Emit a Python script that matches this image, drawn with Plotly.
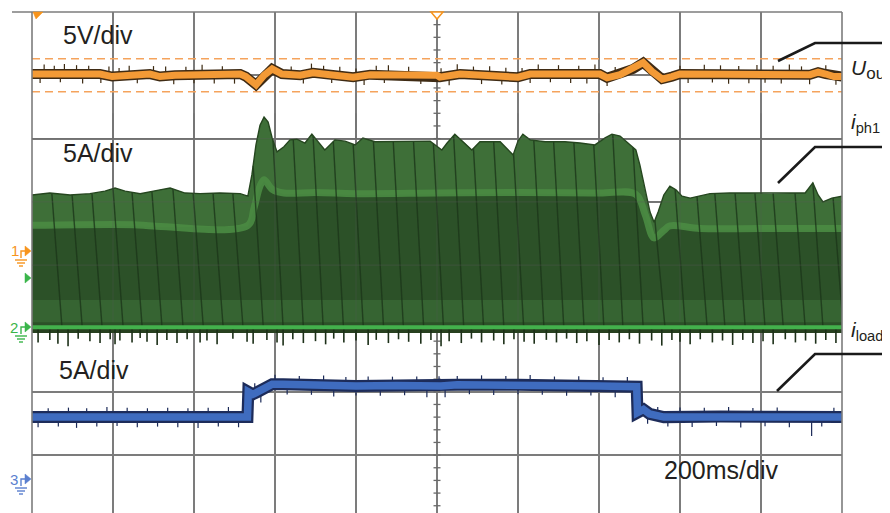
import numpy as np
import plotly.graph_objects as go

# ---------------- data (time in ms, 200 ms/div; vertical values in screen divisions) -------------
uout_t = [0, 168, 198, 237, 291, 316, 353, 514, 528, 553, 573, 593, 617, 662, 694, 736, 793, 835,
          1000, 1007, 1057, 1200, 1230, 1402, 1420, 1452, 1484, 1509, 1531, 1556, 1580, 1600,
          1921, 1941, 1960, 1980, 2000]
uout_v = [3.02, 3.02, 2.98, 2.99, 3.02, 2.98, 3.00, 3.02, 2.98, 2.85, 3.00, 3.10, 3.02, 3.00, 3.04, 3.01, 2.97, 3.01,
          3.00, 2.97, 3.02, 2.97, 3.02, 3.02, 2.96, 3.01, 3.10, 3.20, 3.06, 2.94, 2.98, 3.02,
          3.01, 3.05, 3.02, 2.98, 2.98]
uout_limits = [3.26, 2.74]

iph1_env_t = [0, 44, 94, 143, 180, 205, 230, 267, 316, 341, 378, 415, 464, 514, 533, 543, 553, 563, 573, 583,
              593, 605, 622, 637, 654, 674, 691, 706, 723, 748, 773, 798, 817, 847, 884, 933, 983, 1012, 1025, 1044,
              1069, 1086, 1106, 1156, 1188, 1200, 1212, 1230, 1267, 1316, 1353, 1390, 1415, 1432, 1452, 1477, 1491,
              1501, 1514, 1526, 1536, 1546, 1560, 1575, 1590, 1605, 1625, 1674, 1723, 1773, 1822, 1872, 1909, 1928,
              1941, 1953, 1975, 2000]
iph1_env_v = [1.11, 1.14, 1.11, 1.13, 1.17, 1.22, 1.17, 1.13, 1.19, 1.22, 1.14, 1.13, 1.14, 1.13, 1.09, 1.43, 1.90, 2.21, 2.34, 2.26,
              2.01, 1.79, 1.87, 1.98, 1.99, 1.93, 2.07, 1.95, 1.82, 1.98, 1.96, 1.90, 2.01, 1.95, 1.95, 1.95, 1.96, 1.82, 1.93, 2.07,
              1.93, 1.82, 1.95, 1.95, 1.74, 1.96, 2.07, 1.98, 1.95, 1.95, 1.93, 1.90, 2.01, 2.07, 2.04, 1.90, 1.82,
              1.58, 1.18, 0.84, 0.68, 0.84, 1.11, 1.25, 1.19, 1.09, 1.06, 1.13, 1.14, 1.14, 1.13, 1.14, 1.14, 1.30,
              1.11, 1.00, 1.06, 1.09]
iph1_band_t = [0, 250, 300, 533, 548, 563, 573, 593, 622, 700, 800, 1000, 1200, 1400, 1491, 1514, 1536, 1560, 1575, 1650, 1800, 2000]
iph1_band_v = [0.63, 0.64, 0.62, 0.63, 0.90, 1.25, 1.35, 1.20, 1.14, 1.15, 1.13, 1.14, 1.15, 1.14, 1.12, 0.80, 0.43, 0.55, 0.62, 0.58, 0.58, 0.58]
iph1_base = -0.98
iph1_streak_t = [49, 99, 148, 200, 247, 296, 348, 398, 447, 496, 546, 595, 645, 694, 744, 793, 843, 892, 942, 991,
                 1041, 1090, 1140, 1189, 1239, 1288, 1338, 1387, 1434, 1484, 1538, 1588, 1642, 1686, 1736, 1785, 1830,
                 1884, 1928, 1978]

iload_t = [0, 532, 534, 545, 555, 570, 593, 620, 700, 800, 900, 1000, 1010, 1050, 1200, 1300, 1400, 1493, 1495,
           1510, 1525, 1560, 1700, 1900, 2000]
iload_v = [-2.40, -2.40, -2.00, -2.04, -2.01, -1.95, -1.88, -1.88, -1.90, -1.91, -1.90, -1.92, -1.91, -1.89, -1.89,
           -1.90, -1.91, -1.92, -2.33, -2.28, -2.35, -2.40, -2.39, -2.40, -2.40]

uout_spikes = [(20, -0.14), (30, 0.15), (55, 0.13), (70, -0.13), (80, 0.16), (110, 0.14), (125, -0.15), (140, 0.13),
               (170, -0.14), (190, 0.15), (215, 0.13), (240, 0.16), (260, -0.13), (300, 0.14), (330, 0.15), (350, -0.14),
               (380, 0.13), (400, -0.13), (420, 0.16), (450, -0.14), (470, 0.13), (500, -0.15), (640, 0.13), (670, -0.14),
               (690, 0.15), (720, 0.13), (740, -0.13), (760, 0.14), (800, 0.13), (820, -0.15), (850, 0.14), (870, -0.13),
               (880, 0.15), (930, 0.13), (960, -0.14), (1010, 0.14), (1030, -0.15), (1050, 0.16), (1090, 0.13),
               (1110, -0.14), (1130, 0.15), (1160, -0.13), (1170, 0.14), (1210, 0.13), (1230, -0.14), (1250, 0.15),
               (1280, -0.13), (1300, 0.14), (1330, -0.14), (1350, 0.13), (1370, -0.15), (1390, 0.15), (1420, -0.13),
               (1440, 0.14), (1600, 0.13), (1620, -0.14), (1660, 0.15), (1680, -0.13), (1700, 0.14), (1720, -0.15),
               (1745, 0.13), (1770, -0.14), (1790, 0.15), (1810, -0.13), (1830, 0.14), (1850, -0.14), (1870, 0.16),
               (1900, 0.13), (1920, -0.15), (1960, 0.14), (1985, -0.13)]
iph1_spikes = [(15, 0.24), (44, 0.2), (64, 0.26), (89, 0.3), (114, 0.18), (143, 0.22), (168, 0.25), (193, 0.19),
               (205, 0.27), (217, 0.21), (247, 0.24), (267, 0.17), (284, 0.23), (309, 0.28), (333, 0.2), (358, 0.25),
               (383, 0.19), (415, 0.24), (432, 0.21), (457, 0.27), (496, 0.18), (531, 0.23), (546, 0.26), (580, 0.2),
               (605, 0.24), (620, 0.29), (644, 0.19), (670, 0.25), (700, 0.22), (725, 0.27), (745, 0.18), (770, 0.24),
               (800, 0.21), (830, 0.28), (850, 0.2), (880, 0.25), (905, 0.19), (930, 0.23), (960, 0.26), (985, 0.2),
               (1010, 0.3), (1030, 0.22), (1060, 0.25), (1085, 0.18), (1110, 0.24), (1140, 0.21), (1165, 0.27),
               (1190, 0.19), (1215, 0.23), (1240, 0.26), (1270, 0.2), (1295, 0.24), (1320, 0.18), (1345, 0.25),
               (1370, 0.22), (1400, 0.28), (1425, 0.2), (1450, 0.24), (1475, 0.19), (1500, 0.26), (1530, 0.21),
               (1555, 0.29), (1580, 0.2), (1600, 0.23), (1625, 0.27), (1650, 0.19), (1680, 0.24), (1705, 0.21),
               (1730, 0.28), (1755, 0.2), (1780, 0.25), (1805, 0.22), (1830, 0.27), (1860, 0.19), (1885, 0.24),
               (1910, 0.21), (1935, 0.26), (1960, 0.2), (1985, 0.25)]
iload_spikes = [(15, -0.16), (40, 0.14), (65, -0.15), (90, 0.15), (110, -0.17), (135, 0.14), (160, -0.15), (185, 0.16),
                (210, -0.14), (235, 0.15), (260, -0.16), (285, 0.14), (310, -0.15), (335, 0.15), (360, -0.16),
                (385, 0.14), (410, -0.17), (435, 0.15), (460, -0.15), (485, 0.16), (510, -0.16), (540, -0.22),
                (550, 0.16), (565, -0.2), (600, 0.15), (630, -0.16), (660, 0.14), (690, -0.15), (720, 0.16),
                (745, -0.17), (775, 0.14), (800, -0.15), (830, 0.15), (860, -0.16), (890, 0.14), (920, -0.15),
                (950, 0.15), (975, -0.17), (1005, 0.16), (1020, -0.18), (1050, 0.14), (1080, -0.15), (1110, 0.15),
                (1140, -0.16), (1170, 0.14), (1200, -0.15), (1230, 0.16), (1260, -0.15), (1290, 0.14), (1320, -0.16),
                (1350, 0.15), (1380, -0.15), (1410, 0.14), (1440, -0.17), (1470, 0.15), (1500, 0.16), (1520, -0.18),
                (1545, 0.14), (1570, -0.15), (1600, 0.15), (1630, -0.16), (1660, 0.14), (1690, -0.15), (1720, 0.15),
                (1750, -0.17), (1780, 0.14), (1810, -0.15), (1840, 0.15), (1870, -0.16), (1925, -0.3), (1950, -0.15),
                (1980, 0.15)]

# ---------------- layout constants ----------------
# page has an 8px body margin; plot area in page pixels: x 32..842, y 12..513
BODY = 8
PX0, PX1, PY0, PY1 = 32, 842, 12, 513
FIG_W, FIG_H = 890 - BODY, 513 - BODY
ML, MR, MT = PX0 - BODY, 890 - PX1, PY0 - BODY
MB = FIG_H - MT - (PY1 - PY0)
X0, X1 = 0, 2000
Y_TOP = 4.0
Y_BOT = 4.0 - (PY1 - PY0) / 63.3


def P(xp, yp):
    """page pixel -> paper coordinates"""
    return (xp - PX0) / (PX1 - PX0), (PY1 - yp) / (PY1 - PY0)


def seg_trace(segs, color, width, opacity=1.0):
    xs, ys = [], []
    for (xa, ya, xb, yb) in segs:
        xs += [xa, xb, None]
        ys += [ya, yb, None]
    return go.Scatter(x=xs, y=ys, mode="lines", line=dict(color=color, width=width),
                      opacity=opacity, hoverinfo="skip", showlegend=False)


fig = go.Figure()

# centre graticule ticks (vertical centre line)
ms_per_px = (X1 - X0) / (PX1 - PX0)
tick_half = 3.5 * ms_per_px
ticks = [(1000 - tick_half, y, 1000 + tick_half, y) for y in np.arange(-3.8, 4.0, 0.2)]
fig.add_trace(seg_trace(ticks, "#6a6a6a", 1.3))

# U_out limit lines (dashed)
for lim in uout_limits:
    fig.add_trace(go.Scatter(x=[X0, X1], y=[lim, lim], mode="lines",
                             line=dict(color="#f5a35c", width=1.5, dash="8px,5px"),
                             hoverinfo="skip", showlegend=False))

# ---- i_ph1 (green envelope) ----
env_t = np.array(iph1_env_t, float)
env_v = np.array(iph1_env_v, float)
band_t = np.array(iph1_band_t, float)
band_v = np.array(iph1_band_v, float)

fig.add_trace(go.Scatter(x=list(env_t) + [X1, X0], y=list(env_v) + [iph1_base, iph1_base],
                         fill="toself", fillcolor="#3e6f38", mode="none", hoverinfo="skip", showlegend=False))
fig.add_trace(go.Scatter(x=list(band_t) + [X1, X0], y=list(band_v - 0.02) + [iph1_base, iph1_base],
                         fill="toself", fillcolor="#2c5128", mode="none", hoverinfo="skip", showlegend=False))
fig.add_trace(go.Scatter(x=[X0, X1, X1, X0], y=[-0.55, -0.55, -0.9, -0.9],
                         fill="toself", fillcolor="rgba(70,130,65,0.4)", mode="none", hoverinfo="skip",
                         showlegend=False))
fig.add_trace(go.Scatter(x=band_t, y=band_v, mode="lines", line=dict(color="#4b8b43", width=7, shape="spline"),
                         opacity=0.9, hoverinfo="skip", showlegend=False))

streak_shift = 25.0
streaks = []
for t in iph1_streak_t:
    top = float(np.interp(t, env_t, env_v))
    streaks.append((t, top, t + streak_shift, iph1_base))
fig.add_trace(seg_trace(streaks, "#1c361a", 1.4, 0.8))

fig.add_trace(go.Scatter(x=env_t, y=env_v, mode="lines", line=dict(color="#25461f", width=1.4),
                         hoverinfo="skip", showlegend=False))

fig.add_trace(go.Scatter(x=[X0, X1, X1, X0], y=[iph1_base, iph1_base, iph1_base - 0.09, iph1_base - 0.09],
                         fill="toself", fillcolor="#27401f", mode="none", hoverinfo="skip", showlegend=False))
gsp = [(t, iph1_base, t, iph1_base - d) for t, d in iph1_spikes]
fig.add_trace(seg_trace(gsp, "#1d3019", 1.6))
fig.add_trace(go.Scatter(x=[X0, X1], y=[iph1_base, iph1_base], mode="lines",
                         line=dict(color="#43b14c", width=4), hoverinfo="skip", showlegend=False))

# ---- U_out (orange) ----
osp = [(t, float(np.interp(t, uout_t, uout_v)), t, float(np.interp(t, uout_t, uout_v)) + d) for t, d in uout_spikes]
fig.add_trace(seg_trace(osp, "#3c2a12", 1.2))
fig.add_trace(go.Scatter(x=uout_t, y=uout_v, mode="lines", line=dict(color="#3f2b14", width=10),
                         hoverinfo="skip", showlegend=False))
fig.add_trace(go.Scatter(x=uout_t, y=uout_v, mode="lines", line=dict(color="#f39a36", width=7),
                         hoverinfo="skip", showlegend=False))

# ---- i_load (blue) ----
bsp = [(t, float(np.interp(t, iload_t, iload_v)), t, float(np.interp(t, iload_t, iload_v)) + d) for t, d in iload_spikes]
fig.add_trace(seg_trace(bsp, "#1b2a58", 1.2))
fig.add_trace(go.Scatter(x=iload_t, y=iload_v, mode="lines", line=dict(color="#1d2c5a", width=12),
                         hoverinfo="skip", showlegend=False))
fig.add_trace(go.Scatter(x=iload_t, y=iload_v, mode="lines", line=dict(color="#3f6cbf", width=7.5),
                         hoverinfo="skip", showlegend=False))

# ---------------- shapes ----------------
shapes = []
GRID = "#7c7c7c"
for (xa, ya, xb, yb) in [(32, 12, 32, 513), (842, 12, 842, 513), (12, 12, 842, 12)]:
    pa, pb = P(xa, ya), P(xb, yb)
    shapes.append(dict(type="line", xref="paper", yref="paper", x0=pa[0], y0=pa[1], x1=pb[0], y1=pb[1],
                       line=dict(color=GRID, width=1.6)))
for xv in range(200, 2000, 200):
    shapes.append(dict(type="line", xref="x", yref="y", x0=xv, x1=xv, y0=-0.9, y1=2.4, layer="above",
                       line=dict(color="rgba(90,90,90,0.25)", width=1.2)))
for yv in [0, 1, 2]:
    shapes.append(dict(type="line", xref="x", yref="y", x0=X0, x1=X1, y0=yv, y1=yv, layer="above",
                       line=dict(color="rgba(90,90,90,0.3)", width=1.2)))


def path(points, close=True):
    s = ""
    for i, (xp, yp) in enumerate(points):
        px, py = P(xp, yp)
        s += ("M" if i == 0 else "L") + f" {px:.5f} {py:.5f} "
    return s + ("Z" if close else "")


def add_path(points, color, fill=True, width=1.4, close=True):
    shapes.append(dict(type="path", xref="paper", yref="paper", path=path(points, close),
                       fillcolor=color if fill else "rgba(0,0,0,0)",
                       line=dict(color=color, width=width if not fill else 0.5)))


ORG, GRN, BLU = "#f7941d", "#3ab54a", "#5a7fcf"
add_path([(33, 12), (43, 12), (36, 19)], ORG)
shapes.append(dict(type="path", xref="paper", yref="paper", path=path([(431, 12), (443, 12), (437, 19)]),
                   fillcolor="white", line=dict(color=ORG, width=1.5), layer="above"))


def channel(yc, color):
    add_path([(25, yc - 5), (31, yc), (25, yc + 5)], color)
    add_path([(21, yc + 7), (21, yc), (25, yc)], color, fill=False, close=False)
    add_path([(15, yc + 9), (27, yc + 9)], color, fill=False, close=False)
    add_path([(17, yc + 12), (25, yc + 12)], color, fill=False, close=False)
    add_path([(19, yc + 15), (23, yc + 15)], color, fill=False, close=False)


channel(251, ORG)
add_path([(25, 273), (31, 278), (25, 283)], GRN)
channel(327, GRN)
channel(479, BLU)

for pts in [[(778, 61), (815, 43), (892, 43)], [(778, 183), (815, 147), (892, 147)],
            [(777, 391), (815, 354), (892, 354)]]:
    shapes.append(dict(type="path", xref="paper", yref="paper", path=path(pts, close=False),
                       line=dict(color="#1a1a1a", width=2.6)))

# ---------------- annotations ----------------
ann = []
FONT = "Liberation Sans, Arial, sans-serif"


def text(xp, yp, s, size, color="#231f20", xanchor="left"):
    px, py = P(xp, yp)
    ann.append(dict(x=px, y=py, xref="paper", yref="paper", text=s, showarrow=False, xanchor=xanchor,
                    yanchor="middle", font=dict(family=FONT, size=size, color=color)))


text(61, 35, "5V/div", 25)
text(61, 153, "5A/div", 25)
text(57, 370, "5A/div", 25)
text(662, 470, "200ms/div", 25)
text(849, 69, "<i>U</i><sub><span style='font-size:17px'>out</span></sub>", 21)
text(849, 123, "<i>i</i><sub>ph1</sub>", 21)
text(849, 331, "<i>i</i><sub>load</sub>", 21)
text(15, 250, "1", 15, ORG, "center")
text(14, 327, "2", 15, GRN, "center")
text(14, 479, "3", 15, BLU, "center")

fig.update_layout(
    width=FIG_W, height=FIG_H, margin=dict(l=ML, r=MR, t=MT, b=MB, pad=0),
    paper_bgcolor="white", plot_bgcolor="white", showlegend=False,
    shapes=shapes, annotations=ann,
    xaxis=dict(range=[X0, X1], tick0=0, dtick=200, showgrid=True, gridcolor=GRID, gridwidth=1.5,
               zeroline=False, showline=False, showticklabels=False, ticks="", fixedrange=True),
    yaxis=dict(range=[Y_BOT, Y_TOP], tick0=0, dtick=1, showgrid=True, gridcolor=GRID, gridwidth=1.5,
               zeroline=False, showline=False, showticklabels=False, ticks="", fixedrange=True),
)

fig.write_html("out.html", config={"displayModeBar": False})
